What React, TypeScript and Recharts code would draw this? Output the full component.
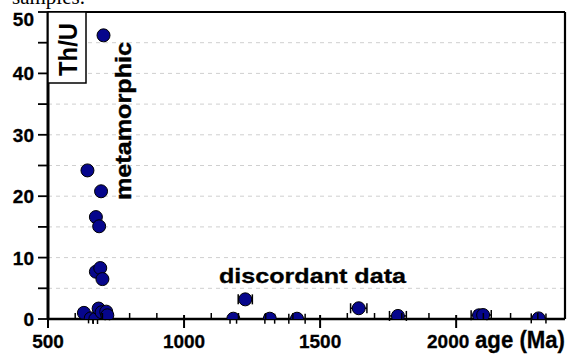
import React from "react";
import {
  ScatterChart,
  Scatter,
  XAxis,
  YAxis,
  CartesianGrid,
  ErrorBar,
  ReferenceLine,
} from "recharts";

// age (Ma), Th/U ratio, 2-sigma age error (Ma)
const metamorphicAges = [704, 645, 695, 676, 688, 676, 692, 700, 632, 657, 674, 686, 697, 714, 718];
const metamorphicThU = [46.2, 24.2, 20.8, 16.6, 15.1, 7.7, 8.3, 6.5, 1.0, 0.1, 0.0, 1.7, 1.1, 1.2, 0.6];
const metamorphicErr = [8, 8, 8, 8, 8, 8, 8, 8, 8, 8, 8, 8, 8, 8, 8];

const discordantAges = [1181, 1225, 1315, 1415, 1642, 1786, 2084, 2099, 2303];
const discordantThU = [0.05, 3.2, 0.05, 0.05, 1.75, 0.5, 0.6, 0.65, 0.1];
const discordantErr = [12, 26, 18, 30, 30, 31, 29, 30, 27];

const xTicks = [500, 600, 700, 800, 900, 1000, 1100, 1200, 1300, 1400, 1500, 1600, 1700, 1800, 1900, 2000, 2100, 2200, 2300];
const xLabels = [500, 1000, 1500, 2000];
const yTicks = [0, 5, 10, 15, 20, 25, 30, 35, 40, 45, 50];
const yLabels = [0, 10, 20, 30, 40, 50];

const data = [
  ...metamorphicAges.map((a, i) => ({ age: a, thu: metamorphicThU[i], err: metamorphicErr[i] })),
  ...discordantAges.map((a, i) => ({ age: a, thu: discordantThU[i], err: discordantErr[i] })),
];

const FONT = "'Liberation Sans', Arial, Helvetica, sans-serif";

const XTick = (props: any) => {
  const { x, y, payload } = props;
  const v = payload.value;
  const major = xLabels.includes(v);
  return (
    <g>
      {major ? (
        <line x1={x} x2={x} y1={y - 4} y2={y + 9} stroke="#000" strokeWidth={2} />
      ) : (
        <line x1={x} x2={x} y1={y - 6} y2={y} stroke="#000" strokeWidth={1.5} />
      )}
      {major && (
        <text
          x={x + (v === 2000 ? -8 : 0)}
          y={y + 29}
          textAnchor="middle"
          fontFamily={FONT}
          fontWeight="bold"
          fontSize={19}
          stroke="#000"
          strokeWidth={0.3}
          fill="#000"
        >
          {v}
        </text>
      )}
    </g>
  );
};

const YTick = (props: any) => {
  const { x, y, payload } = props;
  const v = payload.value;
  const major = yLabels.includes(v);
  return (
    <g>
      <line x1={x - 10} x2={x} y1={y} y2={y} stroke="#000" strokeWidth={1.8} />
      {major && (
        <text
          x={x - 14}
          y={y + 7 + (v === 50 ? 7 : 0)}
          textAnchor="end"
          fontFamily={FONT}
          fontWeight="bold"
          fontSize={19}
          stroke="#000"
          strokeWidth={0.3}
          fill="#000"
        >
          {v}
        </text>
      )}
    </g>
  );
};

const Dot = (p: any) => (
  <circle cx={p.cx} cy={p.cy} r={6.5} fill="#06068c" stroke="#000" strokeWidth={1} />
);

export default function App() {
  return (
    <div style={{ position: "absolute", left: 0, top: 0, width: 569, height: 356, background: "#fff" }}>
      <ScatterChart width={569} height={356} margin={{ top: 12, right: 4, bottom: 0, left: 0 }}>
        <CartesianGrid vertical={false} stroke="#cfcfcf" strokeDasharray="4 4" />
        <XAxis
          type="number"
          dataKey="age"
          domain={[500, 2400]}
          ticks={xTicks}
          interval={0}
          tickSize={0}
          tickMargin={0}
          tickLine={false}
          tick={<XTick />}
          height={37}
          axisLine={{ stroke: "#000", strokeWidth: 2.6 }}
          allowDataOverflow
        />
        <YAxis
          type="number"
          dataKey="thu"
          domain={[0, 50]}
          ticks={yTicks}
          interval={0}
          tickSize={0}
          tickMargin={0}
          tickLine={false}
          tick={<YTick />}
          width={48}
          axisLine={{ stroke: "#000", strokeWidth: 3 }}
          allowDataOverflow
        />
        <ReferenceLine y={50} stroke="#000" strokeWidth={2.2} />
        <ReferenceLine x={2400} stroke="#000" strokeWidth={2.2} />
        <Scatter data={data} isAnimationActive={false} shape={<Dot />}>
          <ErrorBar dataKey="err" direction="x" width={5} stroke="#000" strokeWidth={1.5} />
        </Scatter>
      </ScatterChart>
      <svg
        width={569}
        height={356}
        style={{ position: "absolute", left: 0, top: 0, pointerEvents: "none" }}
      >
        <text x={12} y={4} fontFamily="'Liberation Serif', 'Times New Roman', serif" fontSize={21} fill="#000">
          samples.
        </text>
        <rect x={48} y={12} width={38} height={71} fill="#fff" stroke="#000" strokeWidth={1.5} />
        <text
          x={77}
          y={49.5}
          textAnchor="middle"
          transform="rotate(-90 77 49.5)"
          fontFamily={FONT}
          fontWeight="bold"
          fontSize={25}
          textLength={53}
          lengthAdjust="spacingAndGlyphs"
          fill="#000"
        >
          Th/U
        </text>
        <text
          x={131}
          y={121}
          textAnchor="middle"
          transform="rotate(-90 131 121)"
          fontFamily={FONT}
          fontWeight="bold"
          fontSize={22}
          textLength={158}
          lengthAdjust="spacingAndGlyphs"
          stroke="#000"
          strokeWidth={0.4}
          fill="#000"
        >
          metamorphic
        </text>
        <text
          x={219}
          y={283}
          fontFamily={FONT}
          fontWeight="bold"
          fontSize={21}
          textLength={187}
          lengthAdjust="spacingAndGlyphs"
          stroke="#000"
          strokeWidth={0.3}
          fill="#000"
        >
          discordant data
        </text>
        <text
          x={475}
          y={348}
          fontFamily={FONT}
          fontWeight="bold"
          fontSize={23}
          textLength={90}
          lengthAdjust="spacingAndGlyphs"
          stroke="#000"
          strokeWidth={0.3}
          fill="#000"
        >
          age (Ma)
        </text>
      </svg>
    </div>
  );
}
